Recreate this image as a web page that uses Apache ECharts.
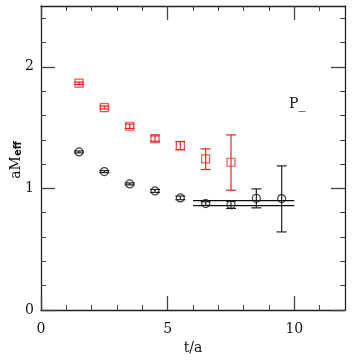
<!DOCTYPE html>
<html><head><meta charset="utf-8">
<script src="https://cdn.jsdelivr.net/npm/echarts@6/dist/echarts.min.js"></script>
<style>html,body{margin:0;padding:0;background:#fff}#c{width:354px;height:362px}</style>
</head><body><div id="c"></div>
<script>
var redT = [1.5, 2.5, 3.5, 4.5, 5.5, 6.5, 7.5];
var redVal = [1.865, 1.665, 1.511, 1.41, 1.352, 1.243, 1.215];
var redLo = [1.855, 1.653, 1.493, 1.388, 1.318, 1.155, 0.985];
var redHi = [1.875, 1.677, 1.529, 1.432, 1.386, 1.325, 1.44];
var blkT = [1.5, 2.5, 3.5, 4.5, 5.5, 6.5, 7.5, 8.5, 9.5];
var blkVal = [1.30, 1.138, 1.037, 0.979, 0.922, 0.875, 0.867, 0.919, 0.916];
var blkLo = [1.292, 1.130, 1.029, 0.967, 0.907, 0.860, 0.835, 0.84, 0.642];
var blkHi = [1.308, 1.146, 1.045, 0.991, 0.937, 0.890, 0.895, 0.996, 1.185];
var fitRange = [6, 10];
var fitLo = 0.858, fitHi = 0.9;
var xTicks = [0, 5, 10];
var yTicks = [0, 1, 2];

function pairs(xs, ys){ return xs.map(function(x,i){return [x, ys[i]];}); }
function errData(xs, lo, hi){ return xs.map(function(x,i){return [x, lo[i], hi[i]];}); }
function errRender(color){
  return function(params, api){
    var x = api.value(0), lo = api.value(1), hi = api.value(2);
    var p1 = api.coord([x, lo]), p2 = api.coord([x, hi]);
    var w = 5;
    var st = {stroke: color, lineWidth: 1.2};
    return {type:'group', children:[
      {type:'line', shape:{x1:p1[0], y1:p1[1], x2:p2[0], y2:p2[1]}, style:st},
      {type:'line', shape:{x1:p1[0]-w, y1:p1[1], x2:p1[0]+w, y2:p1[1]}, style:st},
      {type:'line', shape:{x1:p2[0]-w, y1:p2[1], x2:p2[0]+w, y2:p2[1]}, style:st}
    ]};
  };
}
var axisCol = '#222';
var tickCol = '#444';
var font = 'DejaVu Serif';
function xAx(pos, showLabel){
  return {type:'value', position:pos, min:0, max:12, interval:5,
    axisLine:{show:true, onZero:false, lineStyle:{color:axisCol, width:1.3}},
    axisTick:{show:true, inside:true, length:14, customValues: xTicks, lineStyle:{color:tickCol, width:1.3}},
    minorTick:{show:true, splitNumber:5, length:5, lineStyle:{color:tickCol, width:1}},
    splitLine:{show:false},
    axisLabel:{show:showLabel, margin:12, color:'#111', fontFamily:font, fontSize:14,
      customValues: xTicks},
    name: showLabel ? 't/a' : '', nameLocation:'middle', nameGap:27,
    nameTextStyle:{color:'#111', fontFamily:font, fontSize:14}
  };
}
function yAx(pos, showLabel){
  return {type:'value', position:pos, min:0, max:2.5, interval:1,
    axisLine:{show:true, onZero:false, lineStyle:{color:axisCol, width:1.3}},
    axisTick:{show:true, inside:true, length:14, customValues: yTicks, lineStyle:{color:tickCol, width:1.3}},
    minorTick:{show:true, splitNumber:5, length:5, lineStyle:{color:tickCol, width:1}},
    splitLine:{show:false},
    axisLabel:{show:showLabel, margin:7, color:'#111', fontFamily:font, fontSize:14, customValues: yTicks}
  };
}
var chart = echarts.init(document.getElementById('c'), null, {renderer:'canvas'});
chart.setOption({
  animation:false,
  backgroundColor:'#fff',
  grid:{left:41, right:9, top:6, bottom:52, containLabel:false, outerBoundsMode:'none'},
  xAxis:[xAx('bottom', true), xAx('top', false)],
  yAxis:[yAx('left', true), yAx('right', false)],
  series:[
    {type:'line', data:[[fitRange[0], fitHi],[fitRange[1], fitHi]], symbol:'none', lineStyle:{color:'#111', width:1.2}, silent:true},
    {type:'line', data:[[fitRange[0], fitLo],[fitRange[1], fitLo]], symbol:'none', lineStyle:{color:'#111', width:1.2}, silent:true},
    {type:'custom', data:errData(redT, redLo, redHi), renderItem:errRender('#ee2222'), z:3},
    {type:'custom', data:errData(blkT, blkLo, blkHi), renderItem:errRender('#222'), z:3},
    {type:'scatter', data:pairs(redT, redVal), symbol:'rect', symbolSize:8,
      itemStyle:{color:'rgba(0,0,0,0)', borderColor:'#ee2222', borderWidth:1.2}, z:4},
    {type:'scatter', data:pairs(blkT, blkVal), symbol:'circle', symbolSize:8,
      itemStyle:{color:'rgba(0,0,0,0)', borderColor:'#111', borderWidth:1.2}, z:4}
  ],
  graphic:[
    {type:'text', left:289, top:97, style:{text:'P_', fill:'#111', font:'14px "DejaVu Serif"'}},
    {type:'text', x:13, y:160, rotation:Math.PI/2,
      style:{text:'{a|aM}{b|eff}', align:'center', verticalAlign:'middle', fill:'#111',
        rich:{a:{fontFamily:font, fontSize:14, fill:'#111', verticalAlign:'bottom', lineHeight:20},
              b:{fontFamily:'DejaVu Sans', fontWeight:'bold', fontSize:10, fill:'#111', verticalAlign:'bottom', lineHeight:8}}}}
  ]
});
</script></body></html>
